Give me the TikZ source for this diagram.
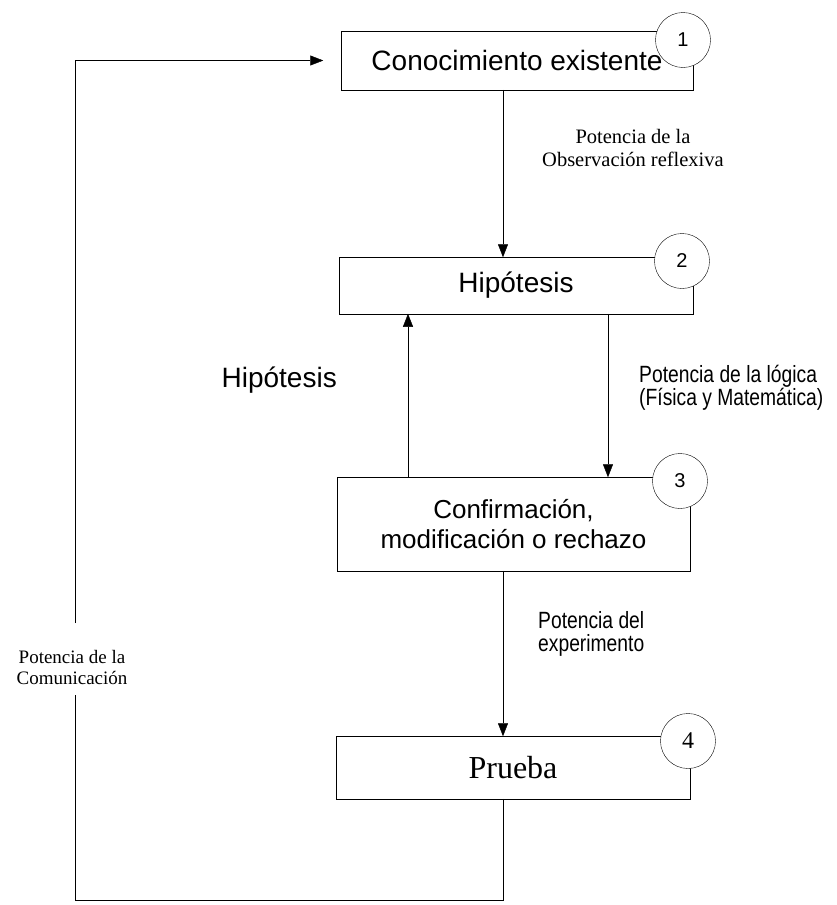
\documentclass[tikz,border=0pt]{standalone}
\usepackage{fontspec}
\setmainfont{Liberation Serif}
\setsansfont{Liberation Sans}
\newfontfamily\narrowsf[FakeStretch=0.82]{Liberation Sans}
\usetikzlibrary{arrows.meta}
\pgfdeclarelayer{bg}
\pgfsetlayers{bg,main}
\begin{document}
\begin{tikzpicture}[x=1pt,y=-1pt,line width=1.5pt,
  boxtxt/.style={inner sep=0pt,align=center},
  numcirc/.style={circle,draw,fill=white,minimum size=55pt,inner sep=0pt,font=\sffamily\fontsize{20}{20}\selectfont},
  arr/.style={-{Triangle[length=13pt,width=10pt]}},
  lblserif/.style={inner sep=0pt,align=center,font=\rmfamily\fontsize{20.5}{23}\selectfont},
  lblnarrow/.style={inner sep=0pt,font=\narrowsf\fontsize{23.5}{23}\selectfont}]
\useasboundingbox (0,0) rectangle (837,905);
% boxes
\node[boxtxt,minimum width=350pt,minimum height=57pt,font=\sffamily\fontsize{28}{30}\selectfont] (b1) at (517,60.5) {Conocimiento existente};
\node[boxtxt,minimum width=352pt,minimum height=55pt,font=\sffamily\fontsize{28}{30}\selectfont] (b2) at (516,285.5) {Hipótesis};
\node[boxtxt,minimum width=351pt,minimum height=92pt,font=\sffamily\fontsize{26}{30}\selectfont] (b3) at (513.5,524) {Confirmación,\\modificación o rechazo};
\node[boxtxt,minimum width=352pt,minimum height=61pt,font=\rmfamily\fontsize{32}{34}\selectfont] (b4) at (513,767.5) {Prueba};
\begin{pgfonlayer}{bg}
\draw (b1.north west) rectangle (b1.south east);
\draw (b2.north west) rectangle (b2.south east);
\draw (b3.north west) rectangle (b3.south east);
\draw (b4.north west) rectangle (b4.south east);
\node[numcirc] (c1) at (683,40) {1};
\node[numcirc] (c2) at (682,261) {2};
\node[numcirc] (c3) at (680,481) {3};
\node[numcirc,font=\rmfamily\fontsize{24}{24}\selectfont] (c4) at (688,741) {4};
\end{pgfonlayer}
% reference x positions
\coordinate (cx) at (503,0);
\coordinate (cl) at (408,0);
\coordinate (cr) at (608,0);
\coordinate (cL) at (75,0);
\coordinate (bot) at (0,900);
\coordinate (gapTop) at (0,623);
\coordinate (gapBot) at (0,695);
% arrows
\draw[arr] (b1.south -| cx) -- (b2.north -| cx);
\draw[arr] (b3.north -| cl) -- (b2.south -| cl);
\draw[arr] (b2.south -| cr) -- (b3.north -| cr);
\draw[arr] (b3.south -| cx) -- (b4.north -| cx);
\draw (b4.south -| cx) -- (bot -| cx) -- (bot -| cL) -- (gapBot -| cL);
\draw[arr,shorten >=18pt] (gapTop -| cL) |- (b1.west);
% labels
\node[lblserif] (lobs) at (633,148) {Potencia de la\\Observación reflexiva};
\node[inner sep=0pt,anchor=base east,font=\sffamily\fontsize{28}{30}\selectfont] (lhip) at (337,387) {Hipótesis};
\node[lblnarrow,align=left,anchor=west] (llog) at (639,388) {Potencia de la lógica\\(Física y Matemática)};
\node[lblnarrow,align=left,anchor=west] (lexp) at (538,634) {Potencia del\\experimento};
\node[lblserif,font=\rmfamily\fontsize{19}{21}\selectfont] (lcom) at (72,667) {Potencia de la\\Comunicación};
\end{tikzpicture}
\end{document}
